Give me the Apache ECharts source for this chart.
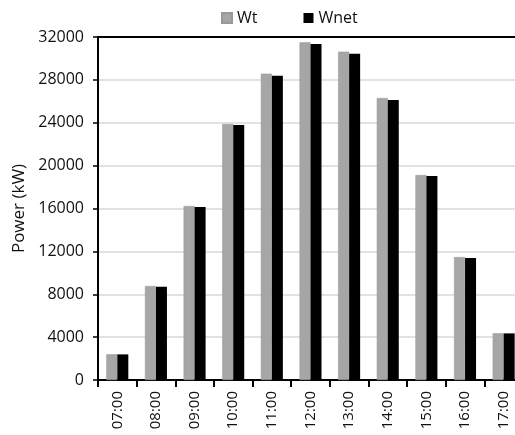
<!DOCTYPE html>
<html><head><meta charset="utf-8">
<script src="https://cdn.jsdelivr.net/npm/echarts@6/dist/echarts.min.js"></script>
<style>html,body{margin:0;padding:0;background:#fff;overflow:hidden}#c{width:523px;height:435px}</style>
</head><body><div id="c"></div>
<script>
var categories = ['07:00','08:00','09:00','10:00','11:00','12:00','13:00','14:00','15:00','16:00','17:00'];
var wt   = [2400, 8770, 16230, 23880, 28580, 31500, 30630, 26310, 19120, 11470, 4360];
var wnet = [2390, 8690, 16140, 23790, 28390, 31350, 30440, 26120, 19030, 11380, 4350];
var yTicks = {min: 0, max: 32000, interval: 4000};
var FONT = 'Open Sans';
var chart = echarts.init(document.getElementById('c'), null, {renderer: 'canvas'});
chart.setOption({
  animation: false,
  textStyle: {fontFamily: FONT},
  legend: {
    left: 216, top: 5, itemWidth: 10, itemHeight: 10, itemGap: 46,
    textStyle: {fontFamily: FONT, fontSize: 16, color: '#111'},
    data: [{name: 'Wt', icon: 'rect'}, {name: 'Wnet', icon: 'rect'}]
  },
  grid: {left: 98, right: 0, top: 37, bottom: 55, containLabel: false},
  xAxis: [{
    type: 'category', data: categories,
    axisLine: {lineStyle: {color: '#000', width: 2}},
    axisTick: {show: true, length: 7, lineStyle: {color: '#000', width: 2}},
    axisLabel: {rotate: 90, color: '#111', fontSize: 15, fontFamily: FONT, margin: 11}
  }, {
    type: 'category', data: categories, position: 'top',
    axisLine: {lineStyle: {color: '#000', width: 2}},
    axisTick: {show: false}, axisLabel: {show: false}
  }],
  yAxis: {
    type: 'value', min: yTicks.min, max: yTicks.max, interval: yTicks.interval,
    name: 'Power (kW)', nameLocation: 'middle', nameGap: 70,
    nameTextStyle: {fontFamily: FONT, fontSize: 17, color: '#111'},
    axisLine: {show: true, lineStyle: {color: '#000', width: 2}},
    axisTick: {show: true, inside: false, length: 5, lineStyle: {color: '#000', width: 1.5}},
    axisLabel: {color: '#111', fontSize: 16, fontFamily: FONT, margin: 14,
      formatter: function (v) { return String(v); }},
    splitLine: {lineStyle: {color: '#d9d9d9', width: 1.5}}
  },
  series: [{
    name: 'Wt', type: 'bar', data: wt, barWidth: 11, barGap: '0%',
    itemStyle: {color: '#a6a6a6', borderColor: '#999', borderWidth: 0.5}
  }, {
    name: 'Wnet', type: 'bar', data: wnet, barWidth: 11,
    itemStyle: {color: '#000'}
  }]
});
</script></body></html>
